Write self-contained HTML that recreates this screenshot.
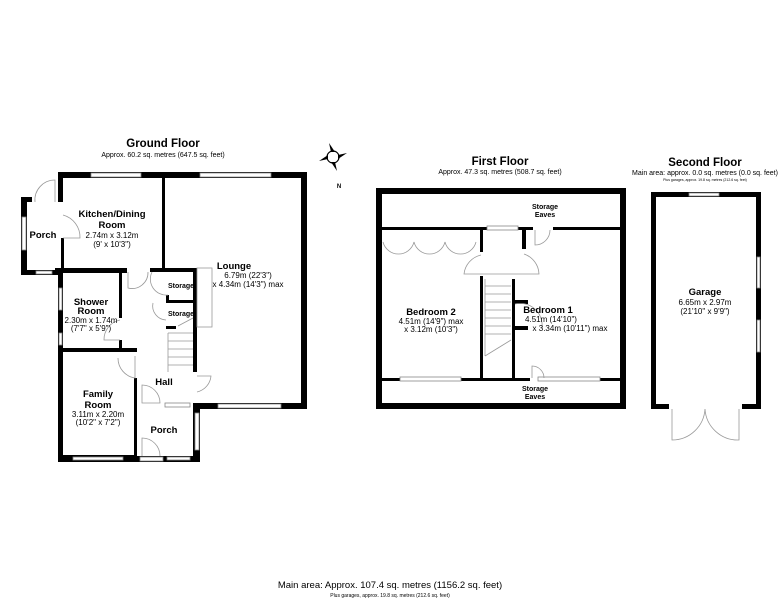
<!DOCTYPE html>
<html><head><meta charset="utf-8"><style>
html,body{margin:0;padding:0;background:#fff;}
svg{display:block;}
text{font-family:"Liberation Sans",Arial,sans-serif;fill:#000;text-anchor:middle;}
.b{font-weight:bold;font-size:9.5px;}
.d{font-size:8px;}
.t{font-weight:bold;font-size:7px;}
.h{font-weight:bold;font-size:11.5px;}
.s{font-size:7px;}
.w{fill:#000;}
.win{fill:#fff;stroke:#888;stroke-width:0.8;}
.thin{fill:none;stroke:#999;stroke-width:0.8;}
.arc{fill:none;stroke:#999;stroke-width:0.8;}
</style></head><body>
<svg width="782" height="600" viewBox="0 0 782 600" xmlns="http://www.w3.org/2000/svg">
<!-- ================= GROUND FLOOR ================= -->
<text class="h" x="163" y="147">Ground Floor</text>
<text class="s" x="163" y="157">Approx. 60.2 sq. metres (647.5 sq. feet)</text>
<!-- compass -->
<g transform="translate(333,157)">
<circle r="6" fill="#fff" stroke="#000" stroke-width="1.2"/>
<polygon points="-2,-5 2,-5 -4,-14" class="w"/>
<polygon points="5,-2 5,2 14,-4" class="w"/>
<polygon points="2,5 -2,5 4,14" class="w"/>
<polygon points="-5,2 -5,-2 -14,4" class="w"/>
<text x="6" y="191" transform="translate(0,-160)" style="font-size:6px;font-weight:bold">N</text>
</g>
<!-- top wall -->
<rect class="w" x="58" y="172" width="249" height="6"/>
<rect class="win" x="91" y="173" width="50" height="4"/>
<rect class="win" x="200" y="173" width="71" height="4"/>
<!-- right wall -->
<rect class="w" x="301" y="172" width="6" height="237"/>
<!-- bottom right wall -->
<rect class="w" x="193" y="403" width="114" height="6"/>
<rect class="win" x="218" y="404" width="63" height="4"/>
<!-- lounge left wall -->
<rect class="w" x="162" y="178" width="3" height="92"/>
<!-- kitchen left wall -->
<rect class="w" x="58" y="172" width="5" height="30"/>
<rect class="w" x="61" y="238" width="3" height="34"/>
<path class="arc" d="M63,215 A23,23 0 0 1 80,238 L63,238"/>
<!-- side porch -->
<rect class="w" x="21" y="197" width="6" height="78"/>
<rect class="w" x="21" y="197" width="11" height="5"/>
<rect class="win" x="22" y="217" width="4" height="33"/>
<rect class="w" x="21" y="270" width="42" height="5"/>
<rect class="win" x="36" y="271" width="16" height="3"/>
<path class="arc" d="M35,202 A20,20 0 0 1 55,180 L55,202"/>
<!-- middle horizontal walls -->
<rect class="w" x="55" y="268" width="72" height="5"/>
<rect class="w" x="150" y="268" width="47" height="4"/>
<path class="arc" d="M128,272 L128,288 A16,16 0 0 0 148,272"/>
<!-- shower room -->
<rect class="w" x="58" y="270" width="5" height="192"/>
<rect class="win" x="59" y="288" width="3" height="22"/>
<rect class="win" x="59" y="333" width="3" height="12"/>
<rect class="w" x="119" y="272" width="3" height="46"/>
<rect class="w" x="119" y="340" width="3" height="10"/>
<path class="arc" d="M120,320 A20,20 0 0 0 104,340 L120,340"/>
<rect class="w" x="63" y="348" width="74" height="4"/>
<!-- family room -->
<rect class="w" x="134" y="378" width="3" height="84"/>
<path class="arc" d="M118,358 A20,20 0 0 0 135,378 L135,356"/>
<rect class="w" x="58" y="455" width="79" height="7"/>
<rect class="win" x="73" y="457" width="50" height="3"/>
<!-- front porch -->
<rect class="w" x="193" y="408" width="7" height="54"/>
<rect class="win" x="195" y="413" width="4" height="37"/>
<rect class="w" x="137" y="456" width="63" height="6"/>
<rect class="win" x="140" y="457" width="23" height="4"/>
<rect class="win" x="167" y="457" width="23" height="3"/>
<path class="arc" d="M142,456 L142,438 A18,18 0 0 1 160,456"/>
<path class="arc" d="M142,385 A18,18 0 0 1 160,403 L142,403 Z"/>
<rect class="win" x="165" y="403" width="25" height="4"/>
<!-- hall / storage -->
<rect class="w" x="193" y="268" width="4" height="104"/>
<rect class="w" x="167" y="300" width="30" height="3"/>
<rect class="w" x="166" y="295" width="3" height="8"/>
<rect class="w" x="166" y="326" width="10" height="3"/>
<path class="arc" d="M152,272 A16,16 0 0 0 168,295"/>
<path class="arc" d="M153,303 A14,14 0 0 0 166,320"/>
<rect class="thin" x="197" y="268" width="15" height="59"/>
<g stroke="#999" stroke-width="0.8">
<line x1="168" y1="333" x2="193" y2="333"/><line x1="168" y1="341" x2="193" y2="341"/>
<line x1="168" y1="349" x2="193" y2="349"/><line x1="168" y1="357" x2="193" y2="357"/>
<line x1="168" y1="365" x2="193" y2="365"/><line x1="168" y1="333" x2="168" y2="372"/>
<line x1="178" y1="326" x2="193" y2="318"/>
</g>
<path class="arc" d="M197,392 A18,18 0 0 0 211,376 L197,376"/>
<!-- ground text -->
<text class="b" x="112" y="217">Kitchen/Dining</text>
<text class="b" x="112" y="228">Room</text>
<text class="d" x="112" y="238">2.74m x 3.12m</text>
<text class="d" x="112" y="247">(9' x 10'3")</text>
<text class="b" x="43" y="238">Porch</text>
<text class="b" x="234" y="269">Lounge</text>
<text class="d" x="248" y="278">6.79m (22'3")</text>
<text class="d" x="248" y="287">x 4.34m (14'3") max</text>
<text class="t" x="181" y="288">Storage</text>
<text class="t" x="181" y="316">Storage</text>
<text class="b" x="91" y="305">Shower</text>
<text class="b" x="91" y="314">Room</text>
<text class="d" x="91" y="323">2.30m x 1.74m</text>
<text class="d" x="91" y="331">(7'7" x 5'9")</text>
<text class="b" x="164" y="385">Hall</text>
<text class="b" x="98" y="397">Family</text>
<text class="b" x="98" y="408">Room</text>
<text class="d" x="98" y="417">3.11m x 2.20m</text>
<text class="d" x="98" y="425">(10'2" x 7'2")</text>
<text class="b" x="164" y="433">Porch</text>

<!-- ================= FIRST FLOOR ================= -->
<text class="h" x="500" y="165">First Floor</text>
<text class="s" x="500" y="174">Approx. 47.3 sq. metres (508.7 sq. feet)</text>
<rect x="379" y="191" width="244" height="215" fill="none" stroke="#000" stroke-width="6"/>
<rect class="w" x="382" y="227" width="238" height="3"/>
<rect fill="#fff" x="533" y="226" width="20" height="5"/>
<rect class="win" x="487" y="226" width="31" height="4"/>
<path class="arc" d="M535,230 L535,245 A15,15 0 0 0 550,230"/>
<rect class="w" x="382" y="378" width="238" height="3"/>
<rect fill="#fff" x="530" y="377" width="8" height="5"/>
<rect class="win" x="400" y="377" width="61" height="4"/>
<rect class="win" x="538" y="377" width="62" height="4"/>
<path class="arc" d="M532,378 L532,366 A12,12 0 0 1 544,378"/>
<rect class="w" x="480" y="227" width="3" height="25"/>
<rect class="w" x="522" y="227" width="4" height="22"/>
<rect class="w" x="480" y="276" width="3" height="104"/>
<rect class="w" x="512" y="279" width="3" height="101"/>
<rect class="w" x="512" y="300" width="16" height="4"/>
<rect class="w" x="512" y="326" width="16" height="4"/>
<path class="arc" d="M515,304 A22,22 0 0 1 542,328"/>
<path class="arc" d="M481,255 A22,22 0 0 0 464,274 L539,274 A22,22 0 0 0 524,254"/>
<path class="arc" d="M383,242 A16,16 0 0 0 414,242 A16,16 0 0 0 445,242 A16,16 0 0 0 476,242" />
<g stroke="#999" stroke-width="0.8">
<line x1="485" y1="286" x2="511" y2="286"/><line x1="485" y1="294" x2="511" y2="294"/>
<line x1="485" y1="302" x2="511" y2="302"/><line x1="485" y1="310" x2="511" y2="310"/>
<line x1="485" y1="318" x2="511" y2="318"/><line x1="485" y1="326" x2="511" y2="326"/>
<line x1="485" y1="334" x2="511" y2="334"/><line x1="485" y1="279" x2="485" y2="356"/>
<line x1="485" y1="356" x2="511" y2="340"/>
</g>
<text class="t" x="545" y="209">Storage</text>
<text class="t" x="545" y="217">Eaves</text>
<text class="b" x="431" y="315">Bedroom 2</text>
<text class="d" x="431" y="324">4.51m (14'9") max</text>
<text class="d" x="431" y="332">x 3.12m (10'3")</text>
<text class="b" x="548" y="313">Bedroom 1</text>
<text class="d" x="551" y="322">4.51m (14'10")</text>
<text class="d" x="570" y="331">x 3.34m (10'11") max</text>
<text class="t" x="535" y="391">Storage</text>
<text class="t" x="535" y="399">Eaves</text>

<!-- ================= SECOND FLOOR ================= -->
<text class="h" x="705" y="166">Second Floor</text>
<text class="s" x="705" y="175">Main area: approx. 0.0 sq. metres (0.0 sq. feet)</text>
<text x="705" y="181" style="font-size:3.5px">Plus garages, approx. 19.8 sq. metres (212.6 sq. feet)</text>
<rect class="w" x="651" y="192" width="110" height="5"/>
<rect class="win" x="689" y="193" width="30" height="3"/>
<rect class="w" x="651" y="192" width="5" height="217"/>
<rect class="w" x="756" y="192" width="5" height="217"/>
<rect class="win" x="757" y="257" width="3" height="31"/>
<rect class="win" x="757" y="320" width="3" height="32"/>
<rect class="w" x="651" y="404" width="18" height="5"/>
<rect class="w" x="742" y="404" width="19" height="5"/>
<path class="arc" d="M672,409 L672,440 A33,33 0 0 0 705,409 A33,33 0 0 0 739,440 L739,409"/>
<text class="b" x="705" y="295">Garage</text>
<text class="d" x="705" y="305">6.65m x 2.97m</text>
<text class="d" x="705" y="314">(21'10" x 9'9")</text>

<!-- bottom -->
<text x="390" y="588" style="font-size:9.5px">Main area: Approx. 107.4 sq. metres (1156.2 sq. feet)</text>
<text x="390" y="597" style="font-size:5px">Plus garages, approx. 19.8 sq. metres (212.6 sq. feet)</text>
</svg>
</body></html>
